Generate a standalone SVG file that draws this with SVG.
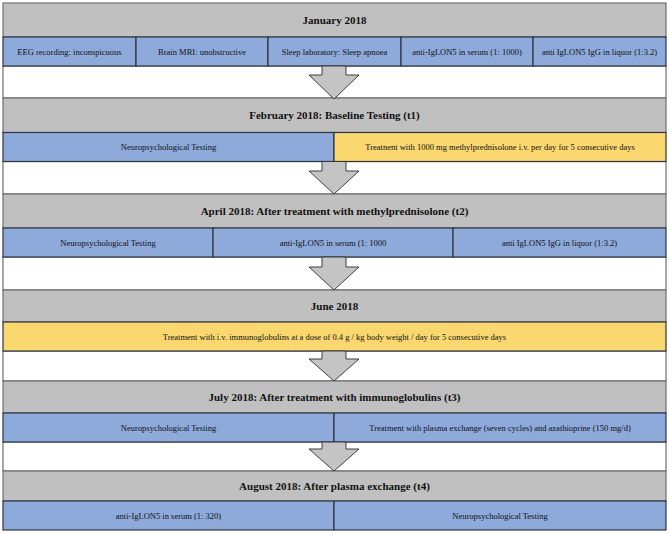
<svg xmlns="http://www.w3.org/2000/svg" width="669" height="534" viewBox="0 0 669 534">
<style>
.bg{fill:#ffffff}
.band{fill:#ffffff;stroke:#6f6f6f;stroke-width:1.2}
.hdr{fill:#c0c0c0;stroke:#6f6f6f;stroke-width:1.2}
.blue{fill:#8eaadb;stroke:#2e3440;stroke-width:1.2}
.yel{fill:#fad86f;stroke:#2e3440;stroke-width:1.2}
.ht{font-family:"Liberation Serif","Times New Roman",serif;font-size:11px;font-weight:bold;fill:#111;text-anchor:middle}
.ct{font-family:"Liberation Serif","Times New Roman",serif;font-size:8.5px;fill:#111;text-anchor:middle}
.arr{fill:#c4c4c4;stroke:#2e2e2e;stroke-width:0.9;stroke-linejoin:miter}
</style>
<rect class="bg" x="0" y="0" width="669" height="534"/>
<!-- white bands behind arrows -->
<rect class="band" x="3" y="66" width="663" height="32"/>
<rect class="band" x="3" y="161.5" width="663" height="32.5"/>
<rect class="band" x="3" y="257" width="663" height="33"/>
<rect class="band" x="3" y="351" width="663" height="30"/>
<rect class="band" x="3" y="442" width="663" height="29"/>

<g id="jan">
<rect class="hdr" x="3" y="3" width="663" height="34"/>
<text class="ht" x="334.5" y="24">January 2018</text>
<rect class="blue" x="3" y="37" width="133" height="29"/>
<rect class="blue" x="136" y="37" width="132" height="29"/>
<rect class="blue" x="268" y="37" width="133" height="29"/>
<rect class="blue" x="401" y="37" width="132" height="29"/>
<rect class="blue" x="533" y="37" width="133" height="29"/>
<text class="ct" x="69.5" y="54.5">EEG recording: inconspicuous</text>
<text class="ct" x="202" y="54.5">Brain MRI: unobstructive</text>
<text class="ct" x="334.5" y="54.5">Sleep laboratory: Sleep apnoea</text>
<text class="ct" x="467" y="54.5">anti-IgLON5 in serum (1: 1000)</text>
<text class="ct" x="599.5" y="54.5">anti IgLON5 IgG in liquor (1:3.2)</text>
</g>

<g id="feb">
<rect class="hdr" x="3" y="98" width="663" height="34.5"/>
<text class="ht" x="334.5" y="119">February 2018: Baseline Testing (t1)</text>
<rect class="blue" x="3" y="132.5" width="331" height="29"/>
<rect class="yel" x="334" y="132.5" width="332" height="29"/>
<text class="ct" x="168.5" y="150">Neuropsychological Testing</text>
<text class="ct" x="500" y="150">Treatnent with 1000 mg methylprednisolone i.v. per day for 5 consecutive days</text>
</g>

<g id="apr">
<rect class="hdr" x="3" y="194" width="663" height="34"/>
<text class="ht" x="334.5" y="215">April 2018: After treatment with methylprednisolone (t2)</text>
<rect class="blue" x="3" y="228" width="210" height="29"/>
<rect class="blue" x="213" y="228" width="240" height="29"/>
<rect class="blue" x="453" y="228" width="213" height="29"/>
<text class="ct" x="108" y="245.5">Neuropsychological Testing</text>
<text class="ct" x="333" y="245.5">anti-IgLON5 in serum (1: 1000</text>
<text class="ct" x="559.5" y="245.5">anti IgLON5 IgG in liquor (1:3.2)</text>
</g>

<g id="jun">
<rect class="hdr" x="3" y="290" width="663" height="32"/>
<text class="ht" x="334.5" y="310">June 2018</text>
<rect class="yel" x="3" y="322" width="663" height="29"/>
<text class="ct" x="334.5" y="339.5">Treatment with i.v. immunoglobulins at a dose of 0.4 g / kg body weight / day for 5 consecutive days</text>
</g>

<g id="jul">
<rect class="hdr" x="3" y="381" width="663" height="32"/>
<text class="ht" x="334.5" y="401">July 2018: After treatment with immunoglobulins (t3)</text>
<rect class="blue" x="3" y="413" width="331" height="29"/>
<rect class="blue" x="334" y="413" width="332" height="29"/>
<text class="ct" x="168.5" y="430.5">Neuropsychological Testing</text>
<text class="ct" x="500" y="430.5">Treatment with plasma exchange (seven cycles) and azathioprine (150 mg/d)</text>
</g>

<g id="aug">
<rect class="hdr" x="3" y="471" width="663" height="30"/>
<text class="ht" x="334.5" y="490">August 2018: After plasma exchange (t4)</text>
<rect class="blue" x="3" y="501" width="331" height="29"/>
<rect class="blue" x="334" y="501" width="332" height="29"/>
<text class="ct" x="168.5" y="518.5">anti-IgLON5 in serum (1: 320)</text>
<text class="ct" x="500" y="518.5">Neuropsychological Testing</text>
</g>

<g id="connectors">
<polygon class="arr" points="322,66 346,66 346,75 359,75 334,99 309,75 322,75"/>
<polygon class="arr" points="322,161.5 346,161.5 346,171 359,171 334,194 309,171 322,171"/>
<polygon class="arr" points="322,257 346,257 346,267 359,267 334,290 309,267 322,267"/>
<polygon class="arr" points="322,351 346,351 346,359 359,359 334,381 309,359 322,359"/>
<polygon class="arr" points="322,442 346,442 346,449 359,449 334,471 309,449 322,449"/>
</g>
</svg>
